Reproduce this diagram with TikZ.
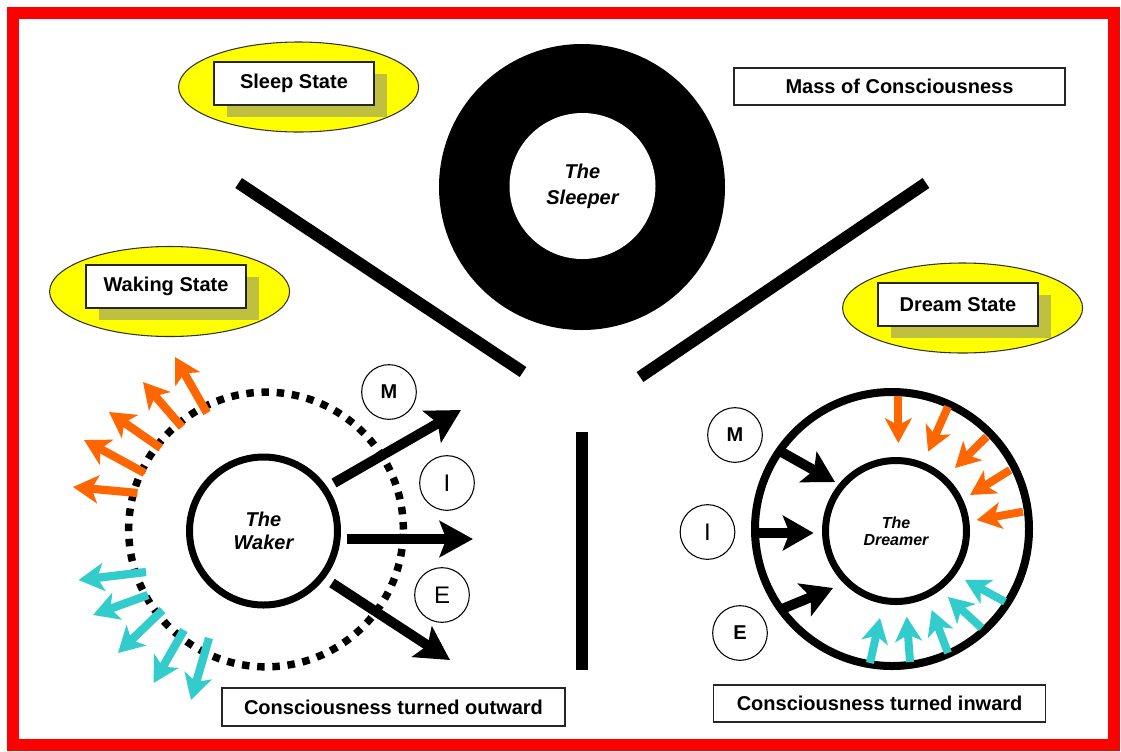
\documentclass[tikz,border=0pt]{standalone}
\usepackage{fontspec}
\setmainfont{Liberation Sans}
\usetikzlibrary{arrows.meta,shapes.geometric}
\definecolor{framered}{RGB}{255,0,0}
\definecolor{ovalyellow}{RGB}{255,255,0}
\definecolor{shadowolive}{RGB}{192,192,64}
\definecolor{arrorange}{RGB}{255,102,0}
\definecolor{arrcyan}{RGB}{51,204,204}
\begin{document}
\begin{tikzpicture}[x=0.75pt,y=-0.75pt,
  stateoval/.style={ellipse,draw=black!80,line width=0.8pt,fill=ovalyellow,minimum width=180pt,minimum height=67.5pt,inner sep=0pt},
  stateshadow/.style={rectangle,fill=shadowolive,minimum width=120pt,minimum height=32.25pt,inner sep=0pt},
  statebox/.style={rectangle,draw=black!85,line width=1.5pt,fill=white,minimum width=120pt,minimum height=32.25pt,inner sep=0pt,font=\bfseries\fontsize{15}{18}\selectfont},
  capbox/.style={rectangle,draw=black!85,line width=1.1pt,fill=white,inner sep=0pt,font=\bfseries\fontsize{15}{18}\selectfont},
  letter/.style={circle,draw=black,line width=0.8pt,fill=white,minimum size=41pt,inner sep=0pt,font=\fontsize{18}{20}\selectfont},
  boldletter/.style={letter,font=\bfseries\fontsize{15}{18}\selectfont},
  divider/.style={line width=9pt,black},
  bigarrow/.style={line width=7.5pt,-{Stealth[length=25pt,width=27pt,inset=5pt]}},
  midarrow/.style={line width=7.5pt,-{Stealth[length=23pt,width=26pt,inset=5pt]}},
  smallarrow/.style={line width=6.2pt,-{Stealth[length=19pt,width=21pt,inset=5pt]}},
  tinyarrow/.style={line width=6pt,-{Stealth[length=18.5pt,width=20pt,inset=5pt]}},
  ]
\useasboundingbox (0,0) rectangle (1121,751);
\fill[white] (0,0) rectangle (1121,751);
\draw[framered,line width=9pt] (13,13) rectangle (1114,745);

% sleeper ring
\node[circle,fill=black,minimum size=214.5pt,inner sep=0pt] (ring) at (582,187) {};
\node[circle,fill=white,minimum size=109.5pt,inner sep=0pt,align=center,font=\bfseries\itshape\fontsize{15}{19.5}\selectfont] (sleeper) at (582.5,186) {The\\Sleeper};

% dividers
\coordinate (dl1) at (238.6,183); \coordinate (dl2) at (523,372);
\coordinate (dr1) at (926,183);   \coordinate (dr2) at (640,377);
\coordinate (dv1) at (582,432);   \coordinate (dv2) at (582,670);
\draw[divider] (dl1) -- (dl2);
\draw[divider] (dr1) -- (dr2);
\draw[divider] (dv1) -- (dv2);

% state labels
\node[stateoval] (sleepoval) at (298.6,87) {};
\node[stateshadow] (sleepshadow) at (307,95.5) {};
\node[statebox] (sleepbox) at (294,83.5) {Sleep State};

\node[stateoval] (wakeoval) at (169.6,291.5) {};
\node[stateshadow] (wakeshadow) at (179,298) {};
\node[statebox] (wakebox) at (166,286) {Waking State};

\node[stateoval] (dreamoval) at (962.6,308) {};
\node[stateshadow] (dreamshadow) at (971,316.5) {};
\node[statebox] (dreambox) at (958,304.5) {Dream State};

\node[capbox,minimum width=248pt,minimum height=27.75pt] (mass) at (899.5,86.5) {Mass of Consciousness};
\node[capbox,minimum width=257pt,minimum height=28.5pt] (outward) at (393.5,707) {Consciousness turned outward};
\node[capbox,minimum width=249pt,minimum height=27.75pt] (inward) at (879.6,703.5) {Consciousness turned inward};

% waker
\draw[line width=5.6pt,dash pattern=on 5.6pt off 5.8pt] (266,529.5) circle[radius=103pt];
\node[circle,draw=black,line width=5.25pt,minimum size=111pt,inner sep=0pt,align=center,font=\bfseries\itshape\fontsize{15}{17}\selectfont] (waker) at (263.5,531) {The\\Waker};

\begin{scope}[arrorange]
\draw[smallarrow] (137.5,493) -- (73,487);
\draw[smallarrow] (144.6,473) -- (84,440);
\draw[smallarrow] (160.7,448) -- (109,412);
\draw[smallarrow] (182,427) -- (143,382);
\draw[smallarrow] (207,413) -- (175,357);
\end{scope}
\begin{scope}[arrcyan]
\draw[smallarrow] (146,572) -- (78.6,580);
\draw[smallarrow] (148,595) -- (93,615);
\draw[smallarrow] (162.5,610) -- (118,653);
\draw[smallarrow] (184,630) -- (153.6,683);
\draw[smallarrow] (209,638) -- (191,700);
\end{scope}

\node[boldletter] (wm) at (389,392) {M};
\node[letter] (wi) at (447,483) {I};
\node[letter] (we) at (442,595) {E};

\draw[bigarrow] (334,483) -- (461,410);
\draw[bigarrow] (346.5,539) -- (473,539);
\draw[bigarrow] (332,583) -- (450,660);

% dreamer
\node[circle,draw=black,line width=6pt,minimum size=205.5pt,inner sep=0pt] (dreamouter) at (892,529) {};
\node[circle,draw=black,line width=5.25pt,minimum size=105.75pt,inner sep=0pt,align=center,font=\bfseries\itshape\fontsize{12}{14}\selectfont] (dreamer) at (896,531) {The\\[-1pt]Dreamer};

\node[boldletter] (dm) at (735,435) {M};
\node[letter] (di) at (707.5,532) {I};
\node[boldletter] (de) at (740,633) {E};

\draw[midarrow] (778,450) -- (835,482);
\draw[midarrow] (756,533) -- (813.6,533);
\draw[midarrow] (779.6,610) -- (833,588);

\begin{scope}[arrorange]
\draw[tinyarrow] (898.3,396) -- (898.3,443);
\draw[tinyarrow] (948,406.7) -- (928,451.7);
\draw[tinyarrow] (986.7,436.7) -- (955,468);
\draw[tinyarrow] (1010,470) -- (970,495);
\draw[tinyarrow] (1023,511.7) -- (976.7,520);
\end{scope}
\begin{scope}[arrcyan]
\draw[tinyarrow] (870,663) -- (880,618);
\draw[tinyarrow] (910,662) -- (906.7,616.7);
\draw[tinyarrow] (948,653) -- (931.7,610);
\draw[tinyarrow] (981.7,628) -- (948,597);
\draw[tinyarrow] (1005,601.7) -- (965,580);
\end{scope}
\end{tikzpicture}
\end{document}
